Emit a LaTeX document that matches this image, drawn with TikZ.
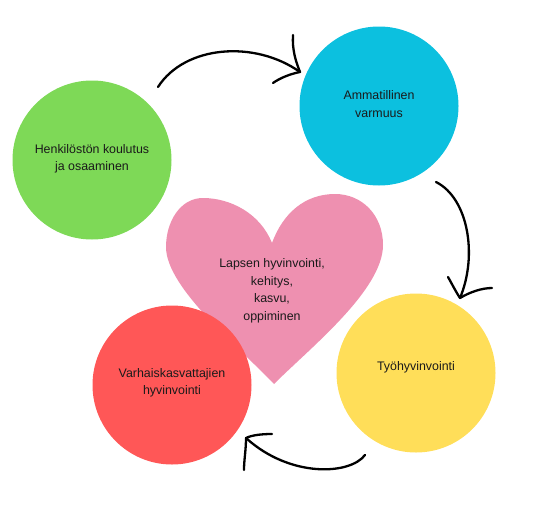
\documentclass[tikz,border=0pt]{standalone}
\usepackage{fontspec}
\setmainfont{Liberation Sans}
\definecolor{cgreen}{HTML}{7ED957}
\definecolor{cblue}{HTML}{0CC0DF}
\definecolor{cyellow}{HTML}{FFDE59}
\definecolor{cred}{HTML}{FF5757}
\definecolor{cpink}{HTML}{EE90B0}
\definecolor{ctext}{HTML}{1A1A1A}
\begin{document}
\begin{tikzpicture}[x=1pt,y=-1pt,
  disc/.style={circle,inner sep=0pt,minimum size=159pt,draw=none},
  lbl/.style={align=center,text=ctext,font=\fontsize{12.4}{17.5}\selectfont,inner sep=0pt},
  handarrow/.style={draw=black,line width=2.3pt,line cap=round,line join=round}]
\useasboundingbox (0,0) rectangle (551,530);
% heart
\fill[cpink] (272,243) .. controls (260,213) and (230,198) .. (203,198)
  .. controls (180,198) and (166,222) .. (166,247)
  .. controls (166,288) and (240,348) .. (274,384)
  .. controls (310,348) and (383,290) .. (383,245)
  .. controls (383,215) and (362,194) .. (335,194)
  .. controls (305,194) and (283,213) .. (272,243) -- cycle;
\node[lbl] (heart) at (272,291) {Lapsen hyvinvointi,\\kehitys,\\kasvu,\\oppiminen};
% circles
\node[disc,fill=cgreen] (green) at (92,160) {};
\node[disc,fill=cblue] (blue) at (379,106) {};
\node[disc,fill=cyellow] (yellow) at (416,373) {};
\node[disc,fill=cred] (red) at (172,385) {};
\node[lbl] (tgreen) at (92,159) {Henkilöstön koulutus\\ja osaaminen};
\node[lbl] (tblue) at (379,104) {Ammatillinen\\varmuus};
\node[lbl] (tyellow) at (416,367) {Työhyvinvointi};
\node[lbl] (tred) at (172,383) {Varhaiskasvattajien\\hyvinvointi};
% arrow coordinates
\coordinate (a1s) at (158,87);
\coordinate (a1t) at (300,72);
\coordinate (a1b1) at (293,35);
\coordinate (a1b2) at (273,83);
\coordinate (a2s) at (436,182);
\coordinate (a2t) at (460,298);
\coordinate (a2b1) at (448,277);
\coordinate (a2b2) at (492,288);
\coordinate (a3s) at (365,455);
\coordinate (a3t) at (246,438);
\coordinate (a3b1) at (272,434);
\coordinate (a3b2) at (244,470);
% arrows
\draw[handarrow] (a1s) .. controls (185,45) and (255,40) .. (a1t);
\draw[handarrow] (a1b1) .. controls (292,50) and (296,62) .. (a1t) .. controls (290,74) and (280,78) .. (a1b2);
\draw[handarrow] (a2s) .. controls (468,198) and (478,255) .. (a2t);
\draw[handarrow] (a2b1) .. controls (452,284) and (456,292) .. (a2t) .. controls (470,292) and (482,288) .. (a2b2);
\draw[handarrow] (a3s) .. controls (350,475) and (290,478) .. (a3t);
\draw[handarrow] (a3b1) .. controls (262,434) and (252,435) .. (a3t) .. controls (246,450) and (244,460) .. (a3b2);
\end{tikzpicture}
\end{document}
